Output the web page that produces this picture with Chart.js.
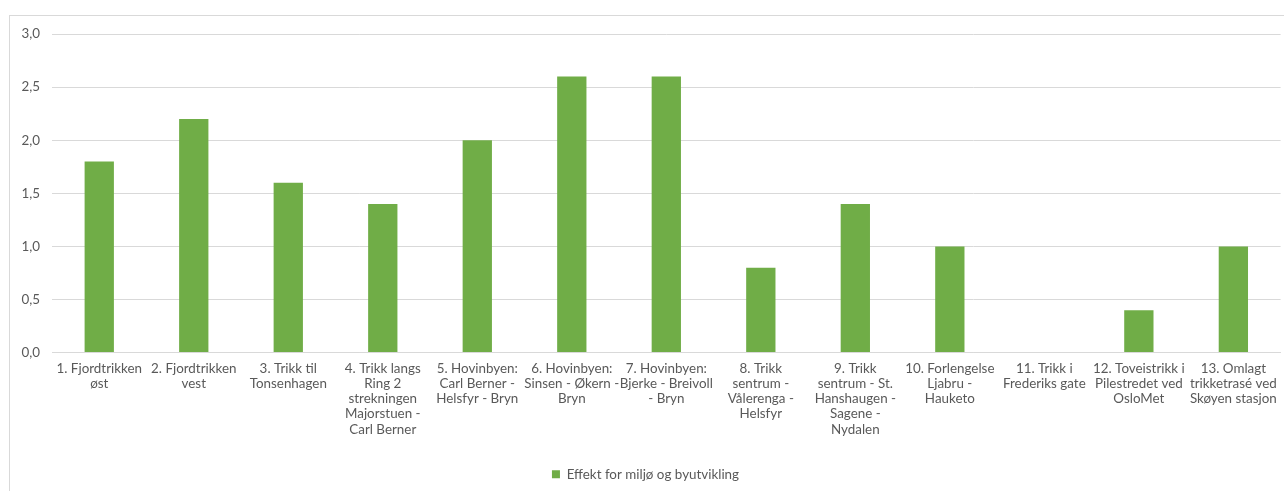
<!DOCTYPE html>
<html>
<head>
<meta charset="utf-8">
<script src="https://cdn.jsdelivr.net/npm/chart.js@4/dist/chart.umd.min.js"></script>
<style>
  html, body { margin: 0; padding: 0; background: #fff; overflow: hidden; }
  #frame {
    position: absolute; left: 9px; top: 15px;
    width: 1275px; height: 476px;
    border-left: 1px solid #d9d9d9; border-top: 1px solid #d9d9d9;
  }
  #wrap { position: absolute; left: 0; top: -2px; width: 1275px; height: 478px; }
</style>
</head>
<body>
<div id="frame"><div id="wrap"><canvas id="c"></canvas></div></div>
<script>
// Tiltak (wrapped into display lines)
const categories = [
  ["1. Fjordtrikken", "øst"],
  ["2. Fjordtrikken", "vest"],
  ["3. Trikk til", "Tonsenhagen"],
  ["4. Trikk langs", "Ring 2", "strekningen", "Majorstuen -", "Carl Berner"],
  ["5. Hovinbyen:", "Carl Berner -", "Helsfyr - Bryn"],
  ["6. Hovinbyen:", "Sinsen - Økern -", "Bryn"],
  ["7. Hovinbyen:", "Bjerke - Breivoll", "- Bryn"],
  ["8. Trikk", "sentrum -", "Vålerenga -", "Helsfyr"],
  ["9. Trikk", "sentrum - St.", "Hanshaugen -", "Sagene -", "Nydalen"],
  ["10. Forlengelse", "Ljabru -", "Hauketo"],
  ["11. Trikk i", "Frederiks gate"],
  ["12. Toveistrikk i", "Pilestredet ved", "OsloMet"],
  ["13. Omlagt", "trikketrasé ved", "Skøyen stasjon"]
];

const seriesName = "Effekt for miljø og byutvikling";
const seriesValues = [1.8, 2.2, 1.6, 1.4, 2.0, 2.6, 2.6, 0.8, 1.4, 1.0, 0, 0.4, 1.0];

const yTicks = [0, 0.5, 1.0, 1.5, 2.0, 2.5, 3.0];

const font = { family: "Lato, 'Open Sans', sans-serif", size: 13.4 };
const textColor = "#595959";
const gridColor = "#d9d9d9";

new Chart(document.getElementById("c"), {
  type: "bar",
  data: {
    labels: categories,
    datasets: [{
      label: seriesName,
      data: seriesValues,
      backgroundColor: "#70ad47",
      borderWidth: 0,
      categoryPercentage: 1.0,
      barPercentage: 0.31
    }]
  },
  options: {
    responsive: true,
    maintainAspectRatio: false,
    animation: false,
    layout: { padding: { left: 0, right: 4, top: 5, bottom: 1 } },
    plugins: {
      tooltip: { enabled: false },
      legend: {
        position: "bottom",
        labels: {
          color: textColor,
          font: font,
          boxWidth: 8,
          boxHeight: 8,
          padding: 10
        }
      }
    },
    scales: {
      x: {
        grid: { display: false, drawTicks: false },
        border: { display: true, color: gridColor, width: 1 },
        ticks: {
          color: textColor,
          font: { ...font, lineHeight: 1.14 },
          autoSkip: false,
          maxRotation: 0,
          minRotation: 0,
          padding: 8
        },
        afterFit: (s) => { s.height = 105; }
      },
      y: {
        min: 0,
        max: 3,
        afterBuildTicks: (s) => { s.ticks = yTicks.map(v => ({ value: v })); },
        grid: { color: gridColor, drawTicks: false },
        border: { display: false },
        ticks: {
          color: textColor,
          font: font,
          padding: 12,
          callback: (v) => Number(v).toFixed(1).replace(".", ",")
        },
        afterFit: (s) => { s.width = 42; }
      }
    }
  }
});
</script>
</body>
</html>
